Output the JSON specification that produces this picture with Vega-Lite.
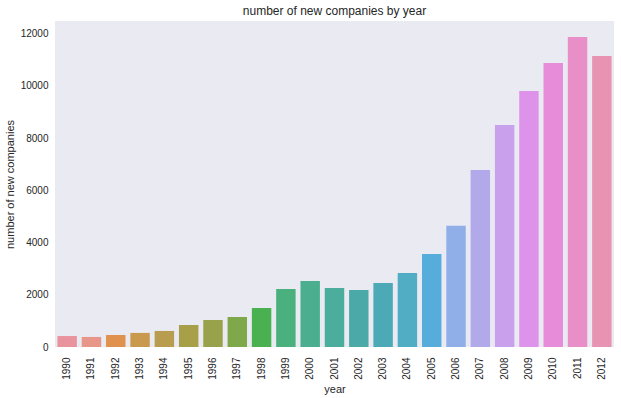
{
  "$schema": "https://vega.github.io/schema/vega-lite/v6.json",
  "width": 559,
  "height": 326,
  "autosize": {"type": "none"},
  "padding": {"left": 55, "top": 21, "right": 7, "bottom": 51},
  "background": "white",
  "title": {"text": "number of new companies by year", "fontSize": 12, "fontWeight": "normal", "font": "Liberation Sans", "color": "#262626", "offset": 3},
  "config": {
    "view": {"fill": "#EAEAF2", "stroke": null},
    "axis": {"labelFont": "Liberation Sans", "titleFont": "Liberation Sans", "labelColor": "#262626", "titleColor": "#262626", "labelFontSize": 10, "titleFontSize": 11, "titleFontWeight": "normal", "domain": false, "ticks": false, "grid": false}
  },
  "data": {"values": [
    {"year": "1990", "n": 420, "c": "#E8939D"},
    {"year": "1991", "n": 385, "c": "#E8968A"},
    {"year": "1992", "n": 460, "c": "#E0914E"},
    {"year": "1993", "n": 540, "c": "#C99A4E"},
    {"year": "1994", "n": 615, "c": "#B89D4E"},
    {"year": "1995", "n": 845, "c": "#A8A048"},
    {"year": "1996", "n": 1035, "c": "#98A24A"},
    {"year": "1997", "n": 1150, "c": "#7FA84A"},
    {"year": "1998", "n": 1495, "c": "#49B14F"},
    {"year": "1999", "n": 2220, "c": "#4AB07E"},
    {"year": "2000", "n": 2530, "c": "#4BAE8F"},
    {"year": "2001", "n": 2260, "c": "#4BAD9C"},
    {"year": "2002", "n": 2185, "c": "#4BAAA7"},
    {"year": "2003", "n": 2450, "c": "#4CA9B6"},
    {"year": "2004", "n": 2835, "c": "#51ADC4"},
    {"year": "2005", "n": 3565, "c": "#56ADDC"},
    {"year": "2006", "n": 4650, "c": "#90AFE8"},
    {"year": "2007", "n": 6780, "c": "#B1A9EA"},
    {"year": "2008", "n": 8505, "c": "#C9A0EC"},
    {"year": "2009", "n": 9810, "c": "#DD93E9"},
    {"year": "2010", "n": 10880, "c": "#E68CD9"},
    {"year": "2011", "n": 11880, "c": "#E88FC8"},
    {"year": "2012", "n": 11150, "c": "#E893B2"}
  ]},
  "mark": {"type": "bar"},
  "encoding": {
    "x": {"field": "year", "type": "nominal", "sort": null, "scale": {"paddingInner": 0.2, "paddingOuter": 0.1}, "axis": {"labelAngle": -90, "labelPadding": 10, "title": "year", "titlePadding": 4}},
    "y": {"field": "n", "type": "quantitative", "scale": {"domain": [0, 12490], "nice": false}, "axis": {"values": [0, 2000, 4000, 6000, 8000, 10000, 12000], "format": "d", "labelPadding": 7, "title": "number of new companies", "titlePadding": 5}},
    "color": {"field": "c", "type": "nominal", "scale": null, "legend": null}
  }
}
